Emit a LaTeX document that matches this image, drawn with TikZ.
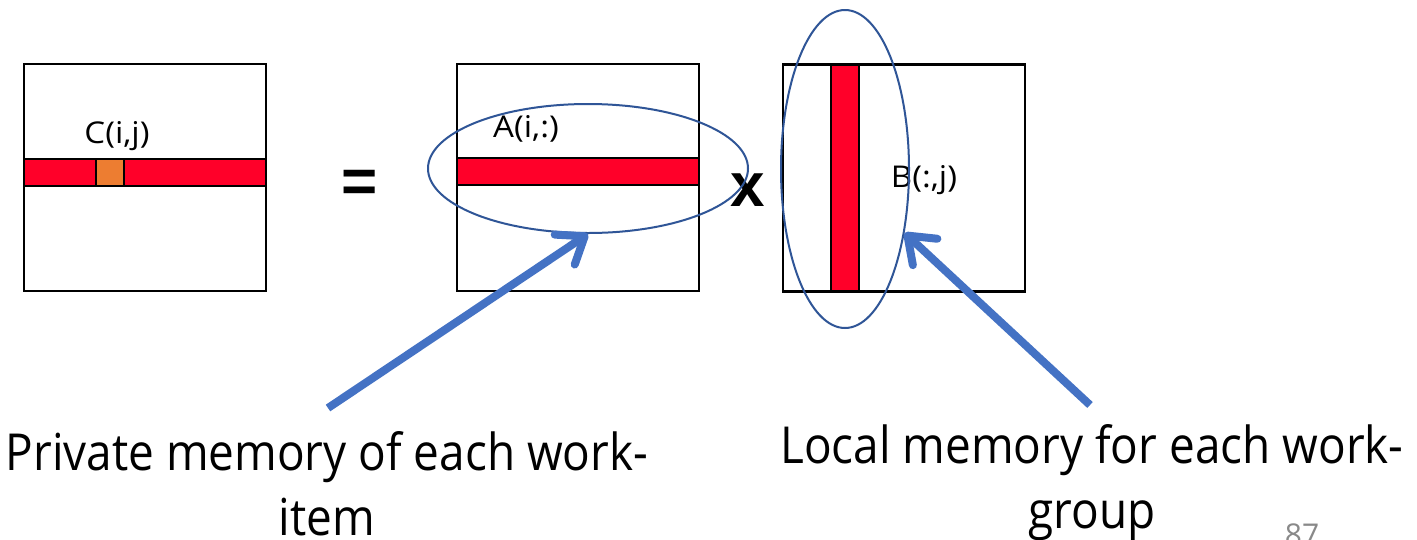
\documentclass[tikz,border=0pt]{standalone}
\usepackage{fontspec}
\setmainfont{Open Sans}
\newfontfamily\capfont[FakeStretch=0.9]{Open Sans}
\newfontfamily\labfont[FakeStretch=1.1]{Open Sans}
\newfontfamily\symfont{Liberation Sans}
\usetikzlibrary{shapes.geometric,arrows.meta}
\definecolor{matred}{HTML}{FF0029}
\definecolor{matorange}{HTML}{ED7D31}
\definecolor{ellblue}{HTML}{2F5597}
\definecolor{arrblue}{HTML}{4472C4}
\definecolor{pagegray}{HTML}{898989}
\begin{document}
\begin{tikzpicture}[x=1pt,y=-1pt,
  matbox/.style={draw=black,line width=2.5pt,fill=white,inner sep=0pt,
    minimum width=242pt,minimum height=227pt},
  redbar/.style={draw=black,line width=2.5pt,fill=matred,inner sep=0pt},
  cellbox/.style={draw=black,line width=2.5pt,fill=matorange,inner sep=0pt,
    minimum width=28pt,minimum height=27pt},
  ringstyle/.style={ellipse,draw=ellblue,line width=2pt,inner sep=0pt},
  smalllabel/.style={inner sep=0pt,font=\labfont\fontsize{30}{36}\selectfont},
  opsym/.style={inner sep=0pt,font=\symfont\bfseries\fontsize{62}{70}\selectfont},
  biglabel/.style={inner sep=0pt,align=center,font=\capfont\fontsize{51}{65}\selectfont},
  memarrow/.style={arrblue,line width=8pt,
    -{Straight Barb[length=24pt,width=36pt,round]}},
]
\useasboundingbox[fill=white] (0,0) rectangle (1417,539);

% matrices
\node[matbox] (C) at (145,177.5) {};
\node[matbox] (A) at (578,177.5) {};
\node[matbox] (B) at (904,178) {};

% rows / column
\node[redbar,minimum width=242pt,minimum height=27pt] (Crow) at (145,172.5) {};
\node[cellbox] (Cij) at (110,172.5) {};
\node[redbar,minimum width=242pt,minimum height=27pt] (Arow) at (578,171.5) {};
\node[redbar,minimum width=28pt,minimum height=226pt] (Bcol) at (845,178) {};

% labels
\node[smalllabel] (Clab) at (117,136) {C(i,j)};
\node[smalllabel] (Alab) at (526,129) {A(i,:)};
\node[smalllabel] (Blab) at (924,180) {B(:,j)};

% operators
\node[opsym] (eq) at (360,186) {=};
\node[opsym] (times) at (747.5,190) {x};

% ellipses
\node[ringstyle,minimum width=320pt,minimum height=129pt] (ellA) at (588,168.5) {};
\node[ringstyle,minimum width=128pt,minimum height=318pt] (ellB) at (845,169) {};

% captions (base = baseline of the last line)
\node[biglabel,anchor=base] (priv) at (327,535) {Private memory of each work-\\item};
\node[biglabel,anchor=base] (loc) at (1092,528) {Local memory for each work-\\group};

% arrows
\coordinate (privtail) at (328,408);
\coordinate (loctail) at (1090,405);
\draw[memarrow] (privtail) -- (ellA.south);
\draw[memarrow] (loctail) -- (ellB.-47);

% page number
\node[inner sep=0pt,anchor=base,text=pagegray,font=\fontsize{30}{36}\selectfont] (pg) at (1302,545) {87};
\end{tikzpicture}
\end{document}
